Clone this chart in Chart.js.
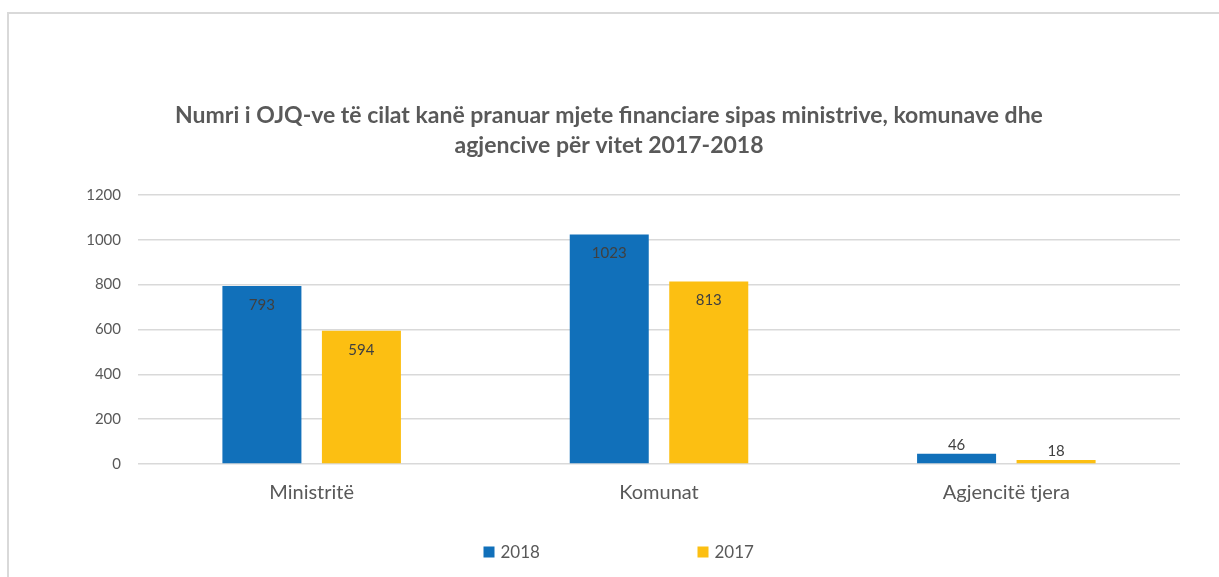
<!DOCTYPE html>
<html>
<head>
<meta charset="utf-8">
<script src="https://cdn.jsdelivr.net/npm/chart.js@4/dist/chart.umd.min.js"></script>
<style>
  html, body { margin: 0; padding: 0; background: #fff; }
  #wrap { position: relative; width: 1219px; height: 577px; }
</style>
</head>
<body>
<div id="wrap"><canvas id="chart"></canvas></div>
<script>
// data
const categories = ['Ministritë', 'Komunat', 'Agjencitë tjera']
const seriesNames = ['2018', '2017']
const values2018 = [793, 1023, 46]
const values2017 = [594, 813, 18]
const yMin = 0
const yMax = 1200
const yStep = 200

const FONT = 'Lato, "Liberation Sans", sans-serif'

// frame lines (top + left like the original export)
const framePlugin = {
  id: 'frame',
  beforeDraw(chart) {
    const ctx = chart.ctx
    ctx.save()
    ctx.strokeStyle = '#d9d9d9'
    ctx.lineWidth = 2
    ctx.beginPath()
    ctx.moveTo(8, 577)
    ctx.lineTo(8, 13)
    ctx.lineTo(1219, 13)
    ctx.stroke()
    ctx.restore()
  },
}

// value labels: inside the top of tall bars, above the short ones
const valueLabels = {
  id: 'valueLabels',
  afterDatasetsDraw(chart) {
    const ctx = chart.ctx
    ctx.save()
    ctx.font = '15px ' + FONT
    ctx.fillStyle = '#404040'
    ctx.textAlign = 'center'
    ctx.textBaseline = 'middle'
    chart.data.datasets.forEach((ds, i) => {
      chart.getDatasetMeta(i).data.forEach((bar, j) => {
        const h = bar.base - bar.y
        const y = h > 30 ? bar.y + 19 : bar.y - 9
        ctx.fillText(String(ds.data[j]), bar.x, y)
      })
    })
    ctx.restore()
  },
}

// legend with the wide item gap
const wideLegend = {
  id: 'wideLegend',
  afterDraw(chart) {
    const ctx = chart.ctx
    const gap = 214
    let x = chart.width / 2 - 126
    const y = 552
    ctx.save()
    ctx.font = '17px ' + FONT
    ctx.textBaseline = 'middle'
    ctx.textAlign = 'left'
    chart.data.datasets.forEach((ds) => {
      ctx.fillStyle = ds.backgroundColor
      ctx.fillRect(x, y - 5.5, 11, 11)
      ctx.fillStyle = '#595959'
      ctx.fillText(ds.label, x + 17, y + 1)
      x += gap
    })
    ctx.restore()
  },
}

new Chart(document.getElementById('chart'), {
  type: 'bar',
  data: {
    labels: categories,
    datasets: [
      {
        label: seriesNames[0],
        data: values2018,
        backgroundColor: '#1170ba',
        categoryPercentage: 0.573,
        barPercentage: 0.794,
      },
      {
        label: seriesNames[1],
        data: values2017,
        backgroundColor: '#fcbf12',
        categoryPercentage: 0.573,
        barPercentage: 0.794,
      },
    ],
  },
  options: {
    responsive: true,
    maintainAspectRatio: false,
    animation: false,
    layout: { padding: { top: 89, left: 38, right: 39, bottom: 63 } },
    plugins: {
      legend: { display: false },
      tooltip: { enabled: false },
      title: {
        display: true,
        text: [
          'Numri i OJQ-ve të cilat kanë pranuar mjete financiare sipas ministrive, komunave dhe',
          'agjencive për vitet 2017-2018',
        ],
        color: '#595959',
        font: { family: FONT, size: 23, weight: 'bold', lineHeight: 1.3 },
        padding: { top: 12, bottom: 34 },
      },
    },
    scales: {
      x: {
        grid: { display: false },
        border: { display: false },
        ticks: {
          color: '#595959',
          font: { family: FONT, size: 20 },
          padding: 9,
        },
      },
      y: {
        min: yMin,
        max: yMax,
        border: { display: false },
        grid: { color: '#d9d9d9', lineWidth: 1.5, drawTicks: false },
        afterFit(scale) { scale.width = 100 },
        ticks: {
          stepSize: yStep,
          color: '#595959',
          font: { family: FONT, size: 15 },
          padding: 17,
          callback: (v) => String(v),
        },
      },
    },
  },
  plugins: [framePlugin, valueLabels, wideLegend],
})
</script>
</body>
</html>
